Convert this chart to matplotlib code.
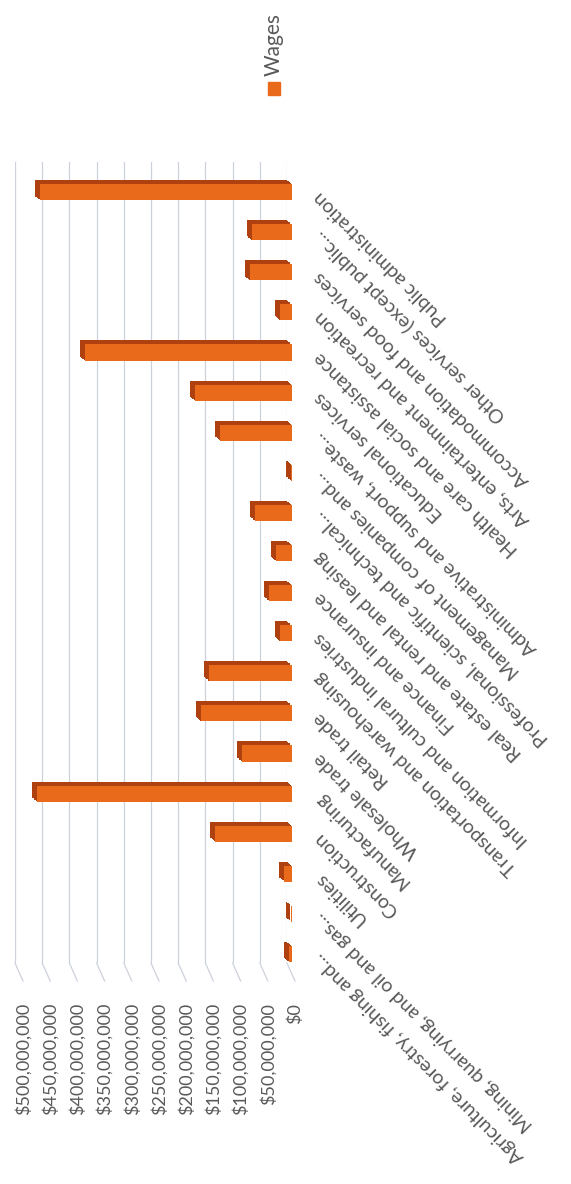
import matplotlib
matplotlib.use("Agg")
import matplotlib.pyplot as plt
from matplotlib.lines import Line2D
from matplotlib.patches import Rectangle
from matplotlib.transforms import ScaledTranslation, IdentityTransform, blended_transform_factory

# ---- data -------------------------------------------------------------
industries = [
    "Agriculture, forestry, fishing and...",
    "Mining, quarrying, and oil and gas...",
    "Utilities",
    "Construction",
    "Manufacturing",
    "Wholesale trade",
    "Retail trade",
    "Transportation and warehousing",
    "Information and cultural industries",
    "Finance and insurance",
    "Real estate and rental and leasing",
    "Professional, scientific and technical...",
    "Management of companies and...",
    "Administrative and support, waste...",
    "Educational services",
    "Health care and social assistance",
    "Arts, entertainment and recreation",
    "Accommodation and food services",
    "Other services (except public...",
    "Public administration",
]
wages = [
    6_000_000, 1_000_000, 14_000_000, 141_000_000, 469_000_000,
    92_000_000, 167_000_000, 152_000_000, 22_000_000, 42_000_000,
    30_000_000, 68_000_000, 2_000_000, 132_000_000, 179_000_000,
    381_000_000, 22_000_000, 78_000_000, 74_000_000, 464_000_000,
]
tick_values = [0, 50_000_000, 100_000_000, 150_000_000, 200_000_000,
               250_000_000, 300_000_000, 350_000_000, 400_000_000,
               450_000_000, 500_000_000]
tick_labels = ["$0", "$50,000,000", "$100,000,000", "$150,000,000",
               "$200,000,000", "$250,000,000", "$300,000,000",
               "$350,000,000", "$400,000,000", "$450,000,000",
               "$500,000,000"]
series_name = "Wages"

# ---- style ------------------------------------------------------------
FRONT = "#EA6A1C"
SIDE = "#AE410F"
GRID = "#CDD1DC"
TEXT = "#595959"
VALUE_FONT = 13
CAT_FONT = 14
LEGEND_FONT = 15

plt.rcParams["font.family"] = ["Lato", "DejaVu Sans"]

DPI = 100
W, H = 571, 1184
fig = plt.figure(figsize=(W / DPI, H / DPI), dpi=DPI)
fig.patch.set_facecolor("white")


def px_shift(dx, dy):
    """Translation by a number of device pixels."""
    return ScaledTranslation(dx / DPI, dy / DPI, fig.dpi_scale_trans)


# plot area (the chart is laid out turned a quarter turn: values grow leftwards)
left_px, right_px, top_px, bottom_px = 15, 287, 162, 963
ax = fig.add_axes([left_px / W, 1 - bottom_px / H,
                   (right_px - left_px) / W, (bottom_px - top_px) / H])
row_px = 40.1
first_row_px = 950


def set_limits():
    ax.set_xlim(tick_values[-1], tick_values[0])
    ax.set_ylim((first_row_px - bottom_px) / row_px,
                (first_row_px - top_px) / row_px)


set_limits()
ax.set_xticks(tick_values)
ax.grid(axis="x", color=GRID, linewidth=0.9)
ax.set_axisbelow(True)
ax.tick_params(length=0, labelbottom=False, labelleft=False)
for s in ax.spines.values():
    s.set_visible(False)

# ---- 3D columns: a dark extrusion behind an orange front face ----------
rows = list(range(len(industries)))
depth_x, depth_y = 5, 4
steps = 6
for k in range(steps):
    t = k / steps
    ax.barh(rows, wages, height=0.4, color=SIDE, linewidth=0,
            transform=ax.transData + px_shift(depth_x * t, -depth_y * t),
            clip_on=False, zorder=2)
ax.barh(rows, wages, height=0.4, color=FRONT, linewidth=0,
        transform=ax.transData + px_shift(depth_x, -depth_y),
        clip_on=False, zorder=3)
set_limits()

# side-wall continuation of the gridlines
y_floor = ax.get_ylim()[0]
for v in tick_values:
    X, Y = ax.transData.transform((v, y_floor))
    fig.add_artist(Line2D([X, X + 8], [Y, Y - 18], color=GRID, linewidth=0.9,
                          transform=IdentityTransform()))

# value labels under the side wall
lab_trans = blended_transform_factory(ax.transData, ax.transAxes) + px_shift(8, 0)
y_lab = -(1003 - bottom_px) / (bottom_px - top_px)
for v, s in zip(tick_values, tick_labels):
    ax.text(v, y_lab, s, transform=lab_trans, rotation=90, rotation_mode="anchor",
            ha="right", va="center", fontsize=VALUE_FONT, color=TEXT, clip_on=False)

# category labels
cat_trans = ax.transData + px_shift(30, -6)
for i, name in enumerate(industries):
    ax.text(0, i, name, transform=cat_trans, rotation=135, rotation_mode="anchor",
            ha="right", va="center", fontsize=CAT_FONT, color=TEXT, clip_on=False)

# legend
fig.add_artist(Rectangle((268 / W, 1 - 95 / H), 12 / W, 13 / H, color=FRONT,
                         transform=fig.transFigure))
fig.text(274 / W, 1 - 76 / H, series_name, rotation=90, rotation_mode="anchor",
         ha="left", va="center", fontsize=LEGEND_FONT, color=TEXT)

fig.savefig("out.png", dpi=DPI, facecolor="white")
